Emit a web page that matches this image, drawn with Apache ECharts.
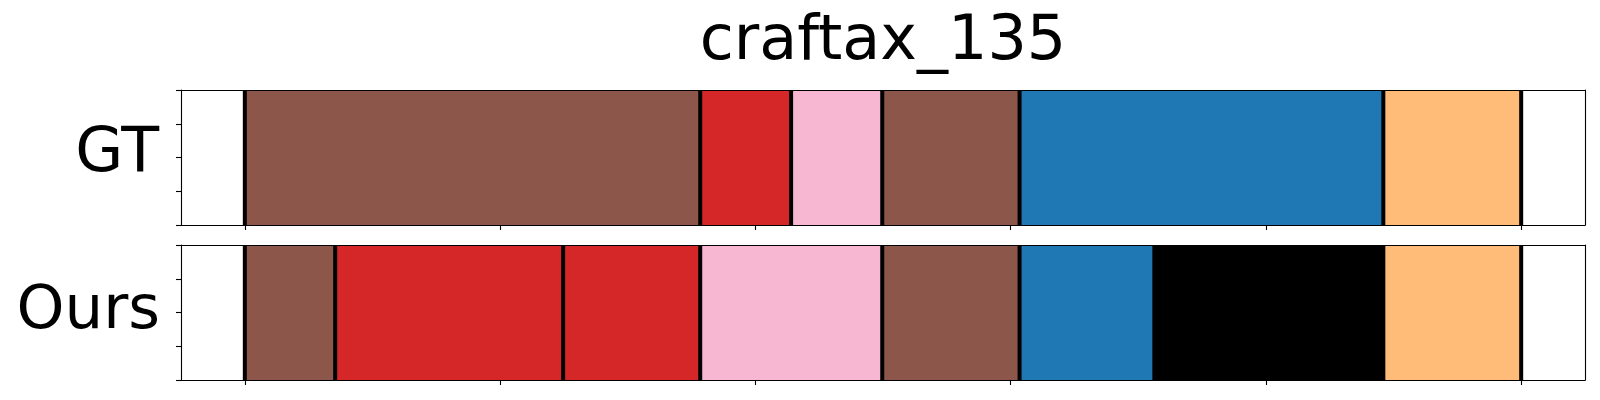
<!DOCTYPE html>
<html>
<head>
<meta charset="utf-8">
<script src="https://cdn.jsdelivr.net/npm/echarts@6/dist/echarts.min.js"></script>
<style>html,body{margin:0;padding:0;background:#fff}#c{width:1600px;height:400px}</style>
</head>
<body>
<div id="c"></div>
<script>
// ---- data ----
const chartTitle = "craftax_135";
const rowNames = ["GT", "Ours"];
const xTicks = [0, 100, 200, 300, 400, 500];
const yTicks = [0, 0.25, 0.5, 0.75, 1];
const xMin = -25, xMax = 525;

const gtBounds = [0, 178.4, 214.0, 249.7, 303.5, 446.0, 500];
const gtColors = ["#8c564b", "#d62728", "#f7b6d2", "#8c564b", "#1f77b4", "#ffbb78"];

const oursBounds = [0, 35.4, 124.7, 178.4, 249.7, 303.5, 356.3, 446.0, 500];
const oursColors = ["#8c564b", "#d62728", "#d62728", "#f7b6d2", "#8c564b", "#1f77b4", "#000000", "#ffbb78"];
// ---------------

const FONT = "DejaVu Sans";
const chart = echarts.init(document.getElementById('c'), null, {renderer: 'canvas'});

const grids = [
  {left: 181, top: 90, width: 1404, height: 135},
  {left: 181, top: 245, width: 1404, height: 135}
];

function segData(bounds, colors) {
  const out = [];
  for (let i = 0; i < colors.length; i++) {
    out.push({value: [bounds[i], bounds[i + 1]], itemStyle: {color: colors[i]}});
  }
  return out;
}

const lineSt = {color: '#000', width: 1.1};
const xAxes = [], yAxes = [], series = [];
[0, 1].forEach(g => {
  xAxes.push({
    gridIndex: g, type: 'value', min: xMin, max: xMax, position: 'bottom', z: 10,
    axisLine: {show: true, onZero: false, lineStyle: lineSt},
    axisTick: {show: true, inside: false, length: 5, lineStyle: lineSt, customValues: xTicks},
    axisLabel: {show: false, customValues: xTicks},
    splitLine: {show: false}
  });
  xAxes.push({
    gridIndex: g, type: 'value', min: xMin, max: xMax, position: 'top', z: 10,
    axisLine: {show: true, onZero: false, lineStyle: lineSt},
    axisTick: {show: false}, axisLabel: {show: false}, splitLine: {show: false}
  });
  yAxes.push({
    gridIndex: g, type: 'value', min: 0, max: 1, interval: 0.25, position: 'left', z: 10,
    axisLine: {show: true, onZero: false, lineStyle: lineSt},
    axisTick: {show: true, inside: false, length: 5, lineStyle: lineSt, customValues: yTicks},
    axisLabel: {show: false}, splitLine: {show: false}
  });
  yAxes.push({
    gridIndex: g, type: 'value', min: 0, max: 1, position: 'right', z: 10,
    axisLine: {show: true, onZero: false, lineStyle: lineSt},
    axisTick: {show: false}, axisLabel: {show: false}, splitLine: {show: false}
  });
});

const allBounds = [gtBounds, oursBounds];
const allColors = [gtColors, oursColors];
[0, 1].forEach(g => {
  series.push({
    type: 'custom', xAxisIndex: g * 2, yAxisIndex: g * 2, z: 2,
    data: segData(allBounds[g], allColors[g]),
    renderItem: function (params, api) {
      const a = api.coord([api.value(0), 1]);
      const b = api.coord([api.value(1), 0]);
      return {type: 'rect', shape: {x: a[0], y: a[1], width: b[0] - a[0], height: b[1] - a[1]},
        style: {fill: api.visual('color')}};
    },
    encode: {x: [0, 1]},
    silent: true, animation: false
  });
  series.push({
    type: 'custom', xAxisIndex: g * 2, yAxisIndex: g * 2, z: 3,
    data: allBounds[g].map(v => [v]),
    renderItem: function (params, api) {
      const a = api.coord([api.value(0), 1]);
      const b = api.coord([api.value(0), 0]);
      return {type: 'line', shape: {x1: a[0], y1: a[1], x2: b[0], y2: b[1]},
        style: {stroke: '#000', lineWidth: 4}};
    },
    encode: {x: 0},
    silent: true, animation: false
  });
});

chart.setOption({
  animation: false,
  backgroundColor: '#fff',
  grid: grids,
  xAxis: xAxes,
  yAxis: yAxes,
  series: series,
  graphic: [
    {type: 'text', x: 883, y: 43, z: 20,
      style: {text: chartTitle, font: '62px "' + FONT + '"', fill: '#000', align: 'center', verticalAlign: 'middle'}},
    {type: 'text', x: 159, y: 155, z: 20,
      style: {text: rowNames[0], font: '62px "' + FONT + '"', fill: '#000', align: 'right', verticalAlign: 'middle'}},
    {type: 'text', x: 160, y: 312, z: 20,
      style: {text: rowNames[1], font: '61px "' + FONT + '"', fill: '#000', align: 'right', verticalAlign: 'middle'}}
  ]
});
</script>
</body>
</html>
